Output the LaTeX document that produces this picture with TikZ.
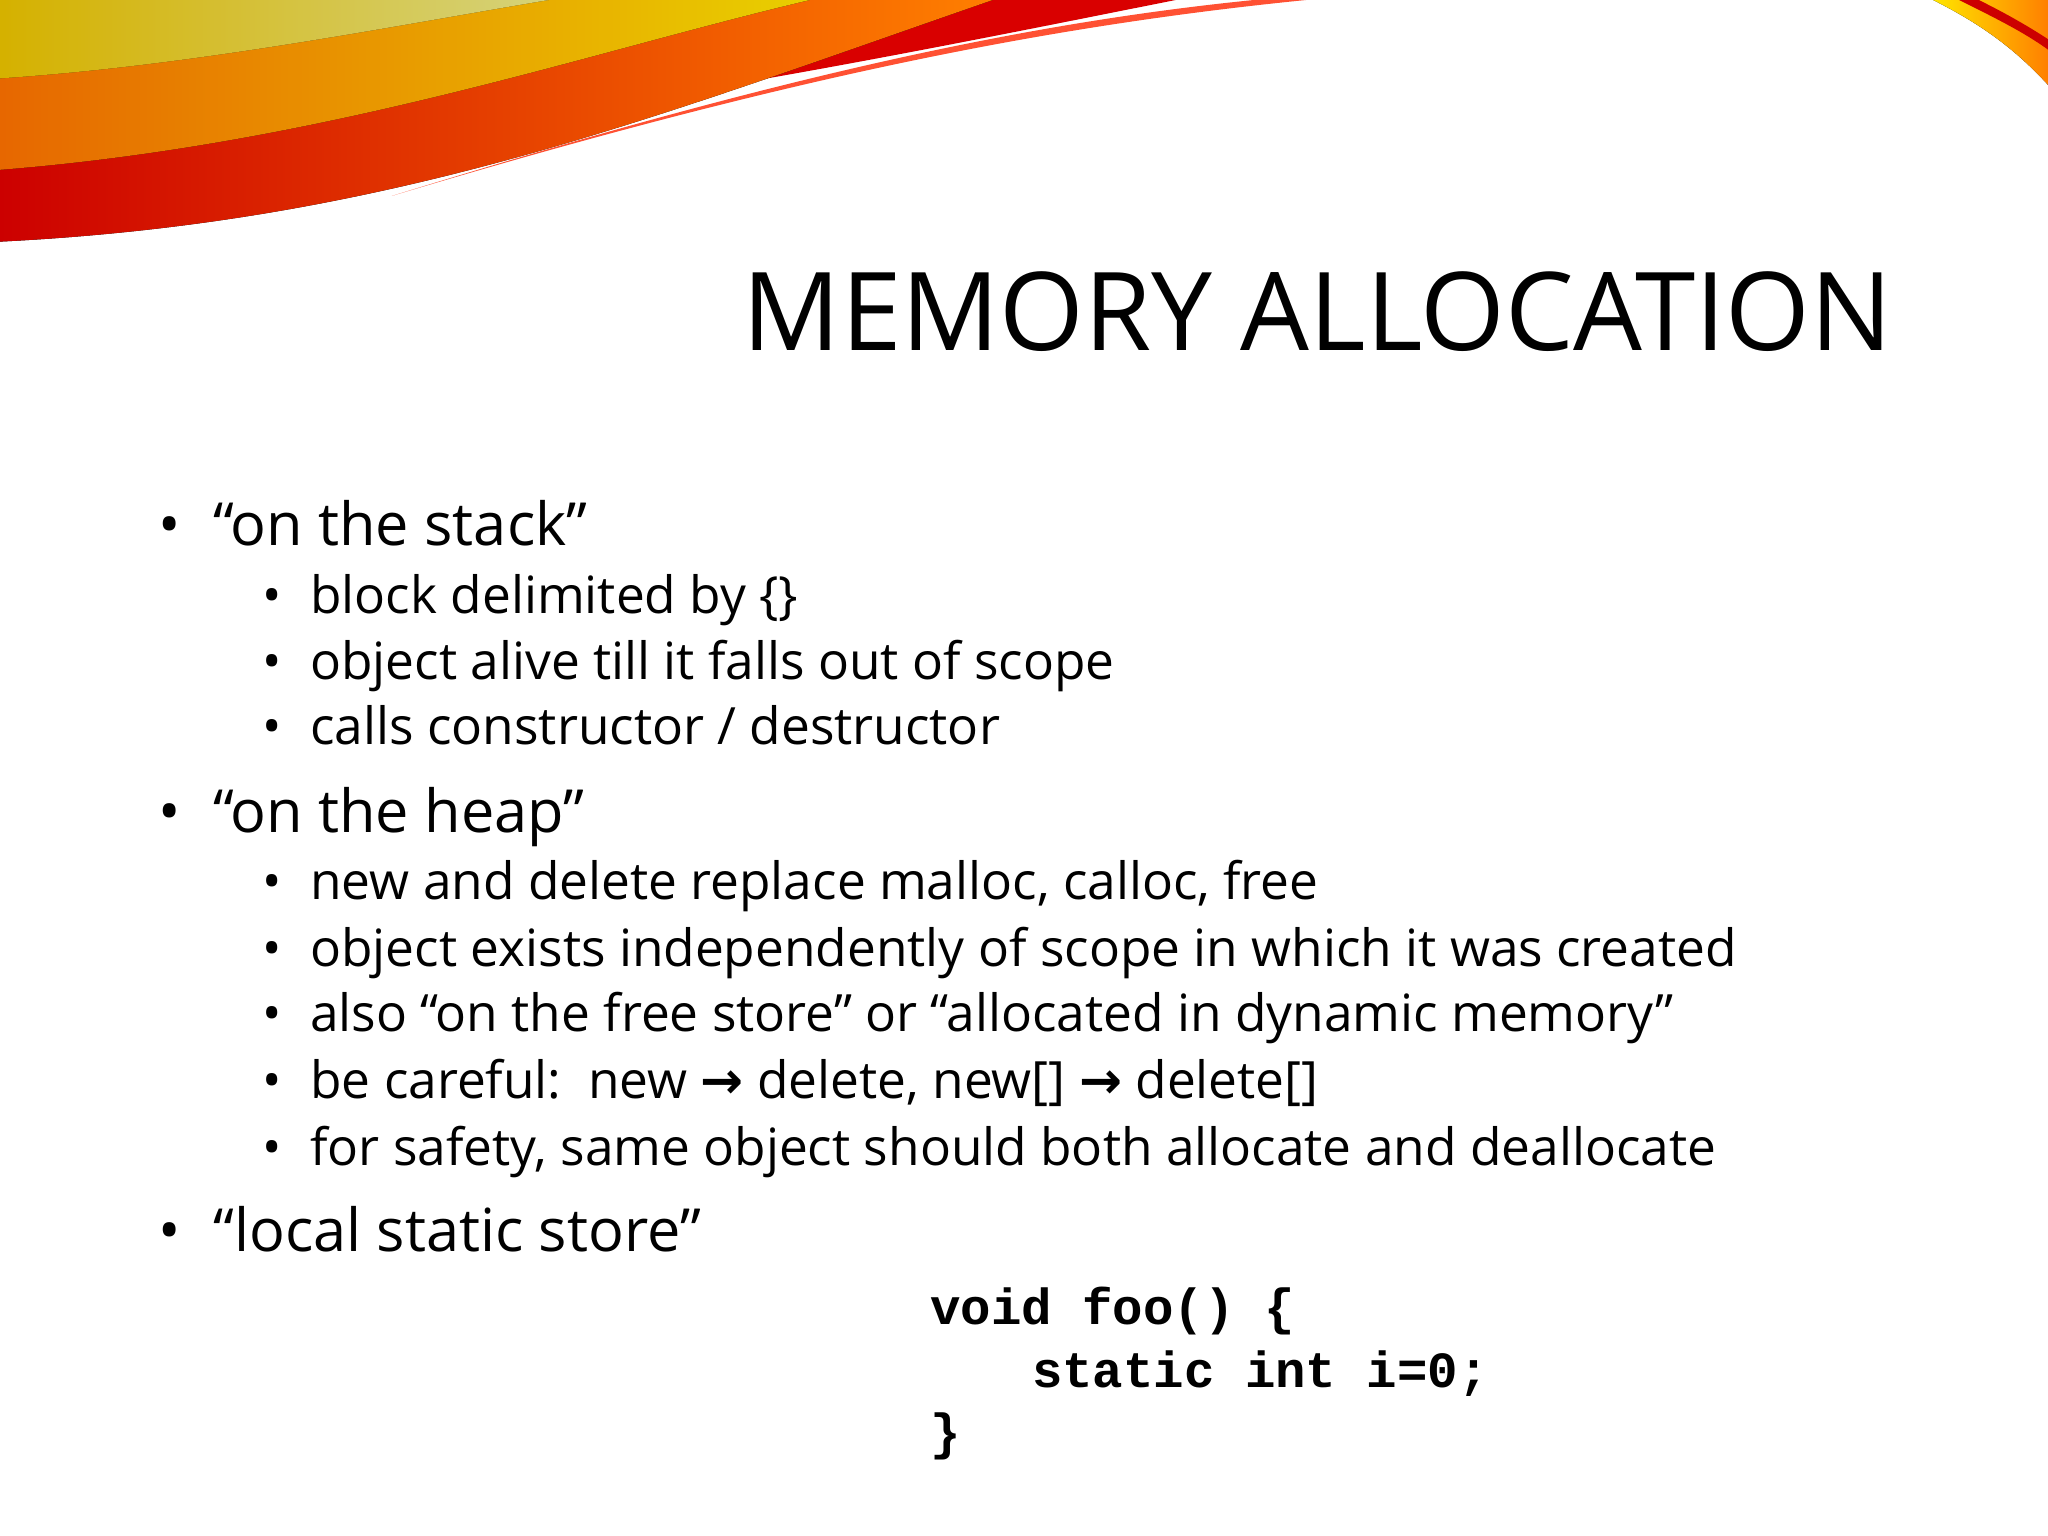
\documentclass[tikz,border=0pt]{standalone}
\usepackage{fontspec}
\setmainfont{Open Sans}
\setmonofont{Liberation Mono}
\newfontfamily\symfont{DejaVu Sans}
\begin{document}
\begin{tikzpicture}[x=0.02cm,y=-0.02cm,
  lone/.style={anchor=base west,font=\fontsize{25.9}{30}\selectfont},
  ltwo/.style={anchor=base west,font=\fontsize{22.4}{26}\selectfont},
  code/.style={anchor=base west,font=\fontsize{22.1}{28}\selectfont\ttfamily\bfseries}]
\useasboundingbox (0,0) rectangle (1568,1176);
\fill[white] (0,0) rectangle (1568,1176);
% swooshes
\fill[red!85!black] (0,120) .. controls (300,120) and (600,60) .. (900,0) -- (0,0) -- cycle;
\fill[left color=red!80!black,right color=orange] (0,185) .. controls (300,170) and (500,90) .. (760,0) -- (0,0) -- cycle;
\fill[left color=orange!90!red,right color=yellow!80!orange,opacity=0.9] (0,130) .. controls (250,110) and (450,40) .. (620,0) -- (0,0) -- cycle;
\fill[left color=yellow!70!orange,right color=yellow!40,opacity=0.8] (0,60) .. controls (150,50) and (300,20) .. (420,0) -- (0,0) -- cycle;
\fill[red!70!orange,opacity=0.8] (300,150) .. controls (600,60) and (800,20) .. (1000,0) -- (960,0) .. controls (760,20) and (560,70) .. (300,150) -- cycle;
\fill[left color=yellow!80!orange,right color=orange] (1480,0) .. controls (1520,20) and (1545,40) .. (1568,65) -- (1568,0) -- cycle;
\fill[red!80!black] (1500,0) .. controls (1530,15) and (1550,25) .. (1568,38) -- (1568,30) .. controls (1545,15) and (1525,5) .. (1515,0) -- cycle;
% title
\node[anchor=base east,font=\fontsize{47.4}{56}\selectfont] (title) at (1455,268) {MEMORY ALLOCATION};
% bullets
\node[lone] (b1) at (115,418) {•\hspace{0.55em}“on the stack”};
\node[ltwo] (b11) at (195,470) {•\hspace{0.55em}block delimited by \{\}};
\node[ltwo] (b12) at (195,520) {•\hspace{0.55em}object alive till it falls out of scope};
\node[ltwo] (b13) at (195,570) {•\hspace{0.55em}calls constructor / destructor};
\node[lone] (b2) at (115,637) {•\hspace{0.55em}“on the heap”};
\node[ltwo] (b21) at (195,689) {•\hspace{0.55em}new and delete replace malloc, calloc, free};
\node[ltwo] (b22) at (195,740) {•\hspace{0.55em}object exists independently of scope in which it was created};
\node[ltwo] (b23) at (195,790) {•\hspace{0.55em}also “on the free store” or “allocated in dynamic memory”};
\node[ltwo] (b24) at (195,841) {•\hspace{0.55em}be careful:\ \ new {\symfont\bfseries →} delete, new[] {\symfont\bfseries →} delete[]};
\node[ltwo] (b25) at (195,892) {•\hspace{0.55em}for safety, same object should both allocate and deallocate};
\node[lone] (b3) at (115,958) {•\hspace{0.55em}“local static store”};
\node[code] (c1) at (706,1014) {void foo() \{};
\node[code] (c2) at (784,1062) {static int i=0;};
\node[code] (c3) at (706,1110) {\}};
\end{tikzpicture}
\end{document}
